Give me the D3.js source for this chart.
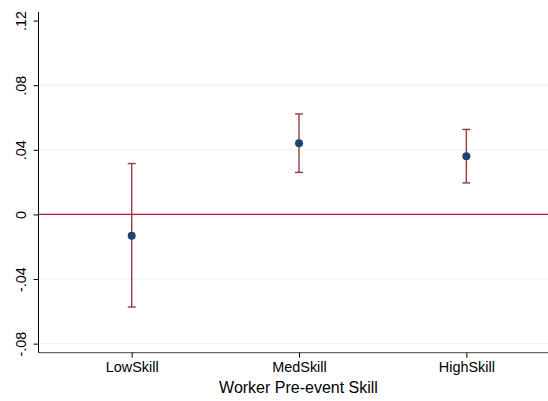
<!DOCTYPE html>
<html>
<head>
<meta charset="utf-8">
<script src="https://cdn.jsdelivr.net/npm/d3@7"></script>
<style>
  body { margin: 0; background: #fff; }
  svg text { font-family: "Liberation Sans", Arial, sans-serif; }
</style>
</head>
<body>
<div id="chart"></div>
<script>
let categories = ["LowSkill", "MedSkill", "HighSkill"],
    estimates = [-0.0132, 0.0441, 0.036],
    ciLow = [-0.0573, 0.026, 0.0195],
    ciHigh = [0.0315, 0.0622, 0.0526],
    yTicks = [-0.08, -0.04, 0, 0.04, 0.08, 0.12],
    yTickLabels = ["-.08", "-.04", "0", ".04", ".08", ".12"],
    gridTicks = [-0.08, -0.04, 0.04, 0.08];

let width = 548,
    height = 401;

let svg = d3.select("#chart")
    .append("svg")
    .attr("width", width)
    .attr("height", height);

let x = d3.scaleLinear()
    .domain([0.443, 3.488])
    .range([38.5, 548]);

let y = d3.scaleLinear()
    .domain([-0.0856, 0.1253])
    .range([352.7, 12]);

// gridlines
svg.append("g")
    .selectAll("line")
    .data(gridTicks)
    .enter()
    .append("line")
    .attr("x1", 38.5)
    .attr("x2", width)
    .attr("y1", function (d) { return y(d); })
    .attr("y2", function (d) { return y(d); })
    .style("stroke", "#eaf1f3")
    .style("stroke-width", 1);

// zero line
svg.append("line")
    .attr("x1", 38.5)
    .attr("x2", width)
    .attr("y1", y(0))
    .attr("y2", y(0))
    .style("stroke", "#c8102e")
    .style("stroke-width", 1.3);

// y axis
let y_axis = d3.axisLeft(y)
    .tickValues(yTicks)
    .tickSize(5)
    .tickFormat(function (d, i) { return yTickLabels[i]; });

let gy = svg.append("g")
    .attr("transform", "translate(38.5,0)")
    .call(y_axis);

gy.select(".domain")
    .attr("d", "M0," + y.range()[1] + "V" + y.range()[0])
    .style("stroke", "#000");
gy.selectAll(".tick line").style("stroke", "#000");
gy.selectAll(".tick text")
    .attr("transform", "rotate(-90)")
    .attr("x", 0)
    .attr("y", -13)
    .attr("dy", 0)
    .style("text-anchor", "middle")
    .style("font-size", "14.4px")
    .style("fill", "#000");

// x axis
let x_axis = d3.axisBottom(x)
    .tickValues([1, 2, 3])
    .tickSize(5)
    .tickFormat(function (d) { return categories[d - 1]; });

let gx = svg.append("g")
    .attr("transform", "translate(0,352.7)")
    .call(x_axis);

gx.select(".domain")
    .attr("d", "M38.5,0H" + width)
    .style("stroke", "#444");
gx.selectAll(".tick line").style("stroke", "#000");
gx.selectAll(".tick text")
    .attr("y", 19.6)
    .attr("dy", 0)
    .style("font-size", "14.4px")
    .style("fill", "#000");

svg.append("text")
    .attr("x", 298.5)
    .attr("y", 393.3)
    .style("text-anchor", "middle")
    .style("font-size", "16px")
    .style("fill", "#000")
    .text("Worker Pre-event Skill");

// confidence intervals
let ci = svg.append("g")
    .selectAll("g")
    .data(categories)
    .enter()
    .append("g")
    .style("stroke", "#953a40")
    .style("stroke-width", 1.4);

ci.append("line")
    .attr("x1", function (d, i) { return x(i + 1); })
    .attr("x2", function (d, i) { return x(i + 1); })
    .attr("y1", function (d, i) { return y(ciLow[i]); })
    .attr("y2", function (d, i) { return y(ciHigh[i]); });

ci.append("line")
    .attr("x1", function (d, i) { return x(i + 1) - 4; })
    .attr("x2", function (d, i) { return x(i + 1) + 4; })
    .attr("y1", function (d, i) { return y(ciLow[i]); })
    .attr("y2", function (d, i) { return y(ciLow[i]); });

ci.append("line")
    .attr("x1", function (d, i) { return x(i + 1) - 4; })
    .attr("x2", function (d, i) { return x(i + 1) + 4; })
    .attr("y1", function (d, i) { return y(ciHigh[i]); })
    .attr("y2", function (d, i) { return y(ciHigh[i]); });

// point estimates
svg.append("g")
    .selectAll("circle")
    .data(estimates)
    .enter()
    .append("circle")
    .attr("cx", function (d, i) { return x(i + 1); })
    .attr("cy", function (d) { return y(d); })
    .attr("r", 4)
    .style("fill", "#1a476f");
</script>
</body>
</html>
